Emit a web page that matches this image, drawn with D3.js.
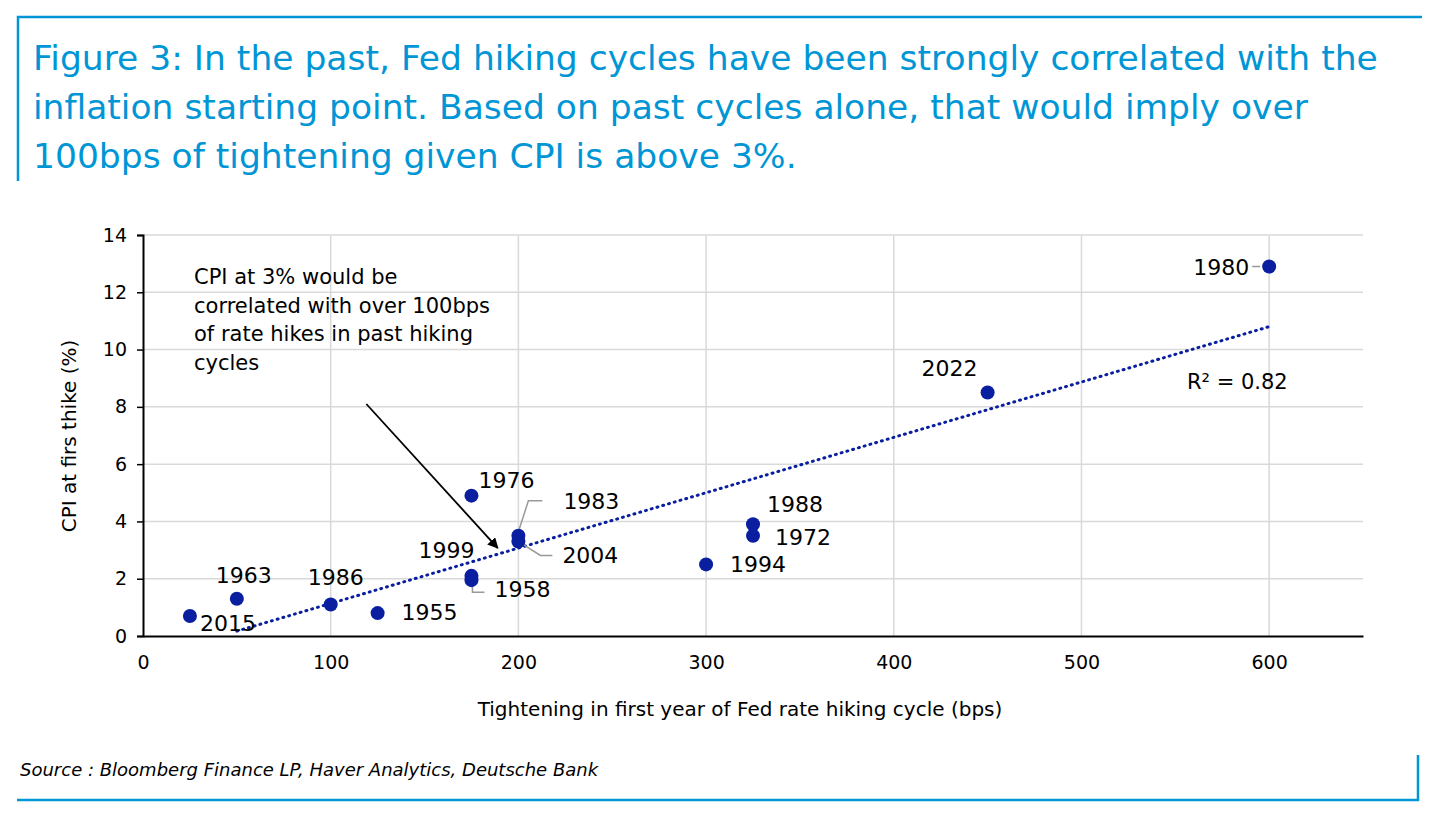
<!DOCTYPE html>
<html><head><meta charset="utf-8">
<script src="https://cdn.jsdelivr.net/npm/d3@7"></script>
<style>body{margin:0;background:#fff;font-family:"DejaVu Sans",sans-serif}</style>
</head><body><div id="viz"></div>
<script>
var years = ["2015","1963","1986","1955","1999","1958","1976","1983","2004","1994","1988","1972","2022","1980"];
var bps = [25,50,100,125,175,175,175,200,200,300,325,325,450,600];
var cpi = [0.7,1.3,1.1,0.8,2.1,1.95,4.9,3.5,3.3,2.5,3.9,3.5,8.5,12.9];
// label offsets in px (dx to text start, dy to baseline) relative to point
var labelDx = [10,-21,-23,24,-53,23,7,45,44,24,14,22,-66,-76];
var labelDy = [15,-16,-19,7,-18,17,-8,-27,22,8,-12,9,-17,8];
var xTicks = [0,100,200,300,400,500,600];
var yTicks = [0,2,4,6,8,10,12,14];
var trendX = [50,600];
var trendY = [0.17,10.8];

var W = 1439, H = 824;
var svg = d3.select("#viz").append("svg").attr("width", W).attr("height", H);
var blue = "#0096d6";
var ff = "DejaVu Sans";

svg.append("path").attr("d","M18,181V17H1422").attr("fill","none").attr("stroke",blue).attr("stroke-width",2.5);
svg.append("path").attr("d","M17,800H1418V755").attr("fill","none").attr("stroke",blue).attr("stroke-width",2.5);

var title = ["Figure 3: In the past, Fed hiking cycles have been strongly correlated with the",
  "inflation starting point. Based on past cycles alone, that would imply over",
  "100bps of tightening given CPI is above 3%."];
svg.selectAll(".title").data(title).enter().append("text")
  .attr("x",33).attr("y",function(d,i){return 70+i*49})
  .attr("fill",blue).attr("font-size",34.5).text(function(d){return d});

var x = d3.scaleLinear().domain([0,650]).range([143,1363]);
var y = d3.scaleLinear().domain([0,14]).range([636,235]);

svg.append("g").selectAll("line").data(yTicks.slice(1)).enter().append("line")
  .attr("x1",143).attr("x2",1363).attr("y1",y).attr("y2",y).attr("stroke","#d9d9d9").attr("stroke-width",1.5);
svg.append("g").selectAll("line").data(xTicks.slice(1)).enter().append("line")
  .attr("y1",236).attr("y2",636).attr("x1",x).attr("x2",x).attr("stroke","#d9d9d9").attr("stroke-width",1.5);

var xa = svg.append("g").attr("transform","translate(0,636)")
  .call(d3.axisBottom(x).tickValues(xTicks).tickSize(0).tickPadding(20));
var ya = svg.append("g").attr("transform","translate(143,0)")
  .call(d3.axisLeft(y).tickValues(yTicks).tickSize(6).tickPadding(10));
[xa,ya].forEach(function(a){
  a.selectAll("text").attr("font-size",19).attr("fill","#000").attr("font-family",ff);
  a.selectAll("line").attr("stroke","#000").attr("stroke-width",1.5);
  a.select(".domain").attr("stroke","#000").attr("stroke-width",2);
});

svg.append("text").attr("x",740).attr("y",716).attr("text-anchor","middle").attr("font-size",20).text("Tightening in first year of Fed rate hiking cycle (bps)");
svg.append("text").attr("transform","translate(76,436) rotate(-90)").attr("text-anchor","middle").attr("font-size",20).text("CPI at firs thike (%)");

svg.append("line").attr("x1",x(trendX[0])).attr("y1",y(trendY[0])).attr("x2",x(trendX[1])).attr("y2",y(trendY[1]))
  .attr("stroke","#0a1fa0").attr("stroke-width",3).attr("stroke-dasharray","1 5").attr("stroke-linecap","round");

svg.append("path").attr("d","M"+x(200)+","+(y(3.5)-4)+"L"+(x(200)+10)+","+(y(3.5)-35)+"h14").attr("fill","none").attr("stroke","#999").attr("stroke-width",1.5);
svg.append("path").attr("d","M"+(x(200)+3)+","+(y(3.3)+2)+"L"+(x(200)+22)+","+(y(3.3)+14)+"h12").attr("fill","none").attr("stroke","#999").attr("stroke-width",1.5);
svg.append("path").attr("d","M"+(x(175)+1)+","+(y(1.95)+2)+"v10h12").attr("fill","none").attr("stroke","#999").attr("stroke-width",1.5);
svg.append("path").attr("d","M"+(x(600)-9)+","+y(12.9)+"h-8").attr("fill","none").attr("stroke","#999").attr("stroke-width",1.5);

var pts = bps.map(function(b,i){return {x:b,y:cpi[i],l:years[i],dx:labelDx[i],dy:labelDy[i]}});
svg.append("g").selectAll("circle").data(pts).enter().append("circle")
  .attr("cx",function(d){return x(d.x)}).attr("cy",function(d){return y(d.y)}).attr("r",7).attr("fill","#0a1fa0");
svg.append("g").selectAll("text").data(pts).enter().append("text")
  .attr("x",function(d){return x(d.x)+d.dx}).attr("y",function(d){return y(d.y)+d.dy})
  .attr("font-size",22).text(function(d){return d.l});

svg.append("text").attr("x",1187).attr("y",389).attr("font-size",21).text("R\u00b2 = 0.82");

var note = ["CPI at 3% would be","correlated with over 100bps","of rate hikes in past hiking","cycles"];
svg.selectAll(".note").data(note).enter().append("text").attr("x",194).attr("y",function(d,i){return 284+i*28.5}).attr("font-size",21).text(function(d){return d});

svg.append("defs").append("marker").attr("id","ar").attr("viewBox","0 0 10 10").attr("refX",9).attr("refY",5)
  .attr("markerWidth",6).attr("markerHeight",6).attr("orient","auto").append("path").attr("d","M0,0L10,5L0,10z");
svg.append("line").attr("x1",x(119)).attr("y1",y(8.1)).attr("x2",x(189)).attr("y2",y(3.07))
  .attr("stroke","#000").attr("stroke-width",1.8).attr("marker-end","url(#ar)");

svg.append("text").attr("x",20).attr("y",776).attr("font-size",18).attr("font-style","italic").text("Source : Bloomberg Finance LP, Haver Analytics, Deutsche Bank");
</script></body></html>
